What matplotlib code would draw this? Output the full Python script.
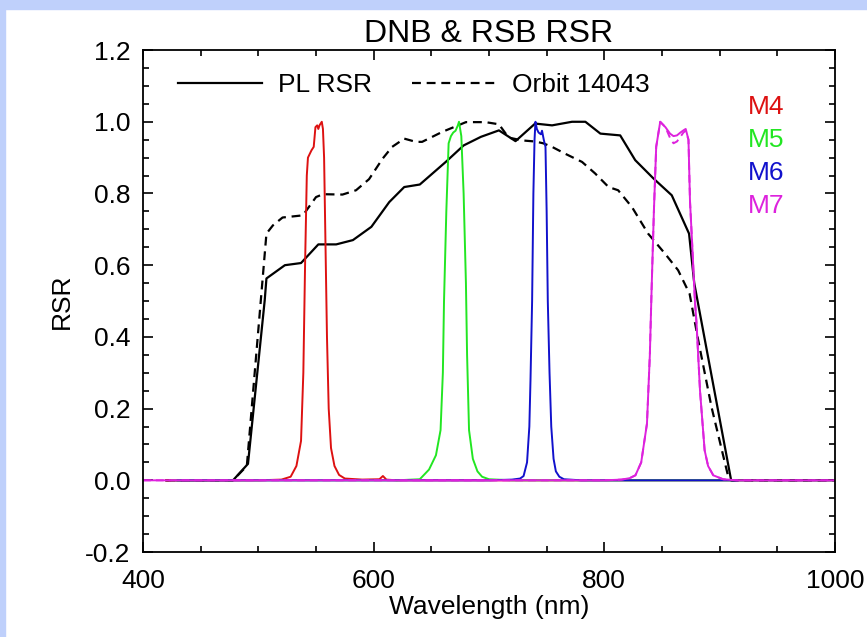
import matplotlib
matplotlib.use('Agg')
import matplotlib.pyplot as plt
from matplotlib.patches import Rectangle

plt.rcParams['font.family'] = ['Liberation Sans', 'DejaVu Sans']

# DNB relative spectral response (prelaunch)
pl_wl = [420, 478, 491, 505.5, 507, 523, 537, 552, 567.5, 582, 598, 613.5, 626.5, 640,
         662.5, 678, 693, 708.6, 714.4, 723, 740, 754.7, 772, 783.6, 796.6, 813.8,
         826.8, 842.6, 858.5, 873.5, 878, 910, 1000]
pl_rsr = [0, 0, 0.046, 0.502, 0.563, 0.60, 0.606, 0.658, 0.658, 0.67, 0.707, 0.776, 0.818, 0.825,
          0.888, 0.934, 0.958, 0.976, 0.964, 0.946, 0.995, 0.99, 1.0, 1.0, 0.967, 0.962,
          0.893, 0.842, 0.795, 0.688, 0.55, 0.0, 0]

# DNB RSR, orbit 14043
orb_wl = [420, 478, 490, 502.6, 507, 512.6, 521, 538.6, 550, 556, 573, 584.7, 596, 607.7,
          616, 626.5, 636.6, 642, 659.6, 680, 697, 708.6, 717, 728.8, 740, 747, 754.7,
          766, 780.7, 792, 803.7, 812, 824, 838, 852.7, 864, 874, 881.5, 893, 907.5, 910, 1000]
orb_rsr = [0, 0, 0.04, 0.52, 0.688, 0.711, 0.733, 0.739, 0.79, 0.798, 0.797, 0.809, 0.84, 0.897,
           0.93, 0.953, 0.944, 0.944, 0.972, 0.999, 0.999, 0.993, 0.956, 0.948, 0.945, 0.94, 0.93,
           0.911, 0.888, 0.856, 0.818, 0.809, 0.762, 0.688, 0.632, 0.586, 0.52, 0.39, 0.204, 0.01, 0, 0]

# M-band RSRs
m4_wl = [420, 500, 520, 528, 533, 537, 539, 540.5, 542, 543, 546, 548, 549.5, 551, 552, 553,
         555, 556, 557, 558, 559.5, 561, 563, 566, 570, 575, 590, 605, 608, 611, 620, 910]
m4_rsr = [0, 0, 0.002, 0.01, 0.04, 0.11, 0.3, 0.6, 0.85, 0.9, 0.92, 0.93, 0.985, 0.99, 0.98, 0.99,
          1.0, 0.98, 0.9, 0.7, 0.4, 0.2, 0.09, 0.04, 0.015, 0.005, 0.002, 0.003, 0.012, 0.002, 0, 0]

m5_wl = [425, 620, 640, 648, 654, 658, 660, 661, 663, 665, 667, 669, 671, 673, 674, 676, 678,
         680, 681, 682.7, 686, 690, 694, 700, 720, 910]
m5_rsr = [0, 0, 0.003, 0.03, 0.07, 0.14, 0.3, 0.5, 0.75, 0.94, 0.96, 0.97, 0.975, 0.99, 1.0, 0.96, 0.8,
          0.55, 0.35, 0.14, 0.06, 0.025, 0.01, 0.003, 0, 0]

m6_wl = [430, 700, 720, 727, 730, 733, 735, 736, 737.4, 738.5, 739.5, 740.3, 741.5, 743, 745, 746,
         747.5, 749, 750, 751, 752.5, 754, 756, 758, 761, 765, 780, 915]
m6_rsr = [0, 0, 0.002, 0.005, 0.012, 0.05, 0.15, 0.28, 0.5, 0.8, 0.95, 1.0, 0.98, 0.97, 0.965, 0.975,
          0.95, 0.93, 0.75, 0.5, 0.3, 0.15, 0.06, 0.025, 0.01, 0.003, 0, 0]

m7_wl = [400, 800, 815, 822, 827, 832, 837, 839.5, 841, 843, 845, 848.5, 853, 857, 860, 863,
         866, 868.6, 870.6, 873, 874.3, 876.5, 878.6, 880, 883, 887, 890, 894.5, 903, 915, 1000]
m7_rsr = [0, 0, 0.002, 0.006, 0.014, 0.05, 0.158, 0.35, 0.53, 0.75, 0.93, 1.0, 0.985, 0.967, 0.96, 0.962,
          0.97, 0.976, 0.98, 0.95, 0.78, 0.64, 0.5, 0.437, 0.25, 0.084, 0.04, 0.014, 0.003, 0, 0]
m7_orb_rsr = [0, 0, 0.002, 0.006, 0.014, 0.05, 0.158, 0.35, 0.53, 0.75, 0.93, 1.0, 0.985, 0.955, 0.94, 0.945,
              0.958, 0.97, 0.975, 0.95, 0.78, 0.64, 0.5, 0.437, 0.25, 0.084, 0.04, 0.014, 0.003, 0, 0]

band_names = ['M4', 'M5', 'M6', 'M7']
band_colors = ['#dd1111', '#22e622', '#1111cc', '#dd22dd']

fig = plt.figure(figsize=(8.67, 6.37), dpi=100)
# light blue frame strips on the left and top
fig.patches.append(Rectangle((0, 0), 5 / 867, 1, transform=fig.transFigure,
                             color='#bfd0fb', zorder=-1))
fig.patches.append(Rectangle((0, 1 - 9 / 637), 1, 9 / 637, transform=fig.transFigure,
                             color='#bfd0fb', zorder=-1))

ax = fig.add_axes([0.165, 0.1334, 0.798, 0.788])

dash = (0, (4, 2.6))
ax.plot(pl_wl, pl_rsr, color='black', lw=1.6, label='PL RSR')
ax.plot(orb_wl, orb_rsr, color='black', lw=1.6, linestyle=dash, label='Orbit 14043')

for wl, rsr, c in zip([m4_wl, m5_wl, m6_wl, m7_wl], [m4_rsr, m5_rsr, m6_rsr, m7_rsr], band_colors):
    ax.plot(wl, rsr, color=c, lw=1.4)
ax.plot(m7_wl, m7_orb_rsr, color=band_colors[3], lw=1.4, linestyle=dash)

ax.set_xlim(400, 1000)
ax.set_ylim(-0.2, 1.2)
ax.set_xticks([400, 600, 800, 1000])
ax.set_xticks(range(400, 1001, 50), minor=True)
ax.set_yticks([-0.2, 0.0, 0.2, 0.4, 0.6, 0.8, 1.0, 1.2])
ax.set_yticklabels(['-0.2', '0.0', '0.2', '0.4', '0.6', '0.8', '1.0', '1.2'])
ax.set_yticks([i * 0.05 - 0.2 for i in range(29)], minor=True)
ax.tick_params(which='both', direction='in', top=True, right=True, labelsize=19, width=1.2)
ax.tick_params(axis='x', which='major', pad=12)
ax.tick_params(axis='y', which='major', pad=9)
ax.tick_params(which='major', length=7.5)
ax.tick_params(which='minor', length=4.5)
for s in ax.spines.values():
    s.set_linewidth(1.3)

ax.set_xlabel('Wavelength (nm)', fontsize=19, labelpad=2)
ax.set_ylabel('RSR', fontsize=19, labelpad=8)
ax.set_title('DNB & RSB RSR', fontsize=23, pad=6)

ax.legend(loc='center left', bbox_to_anchor=(0.05, 0.93), ncol=2, frameon=False,
          fontsize=19, handlelength=3.2, handletextpad=0.6, columnspacing=1.5,
          borderpad=0, borderaxespad=0)

for i, (name, c) in enumerate(zip(band_names, band_colors)):
    ax.text(0.874, 0.886 - i * 0.0655, name, color=c, fontsize=19,
            transform=ax.transAxes, va='center', ha='left')

plt.savefig('out.png', dpi=100)
plt.close()
